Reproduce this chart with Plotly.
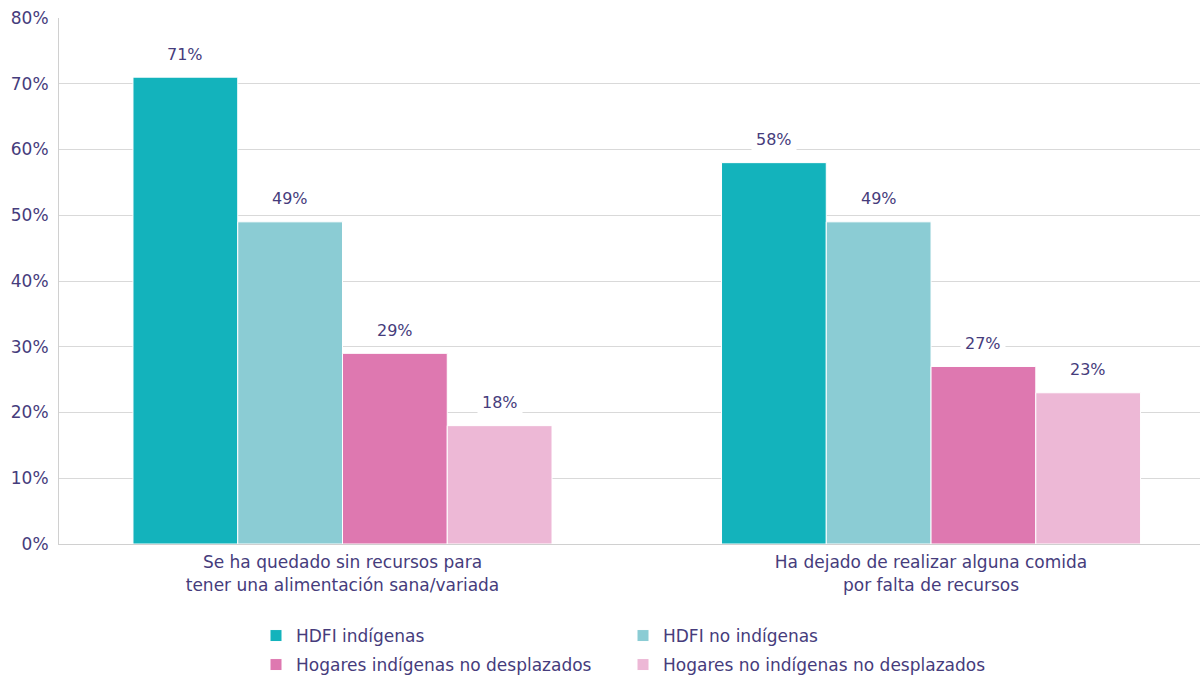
import plotly.graph_objects as go

categories = [
    "Se ha quedado sin recursos para<br>tener una alimentación sana/variada",
    "Ha dejado de realizar alguna comida<br>por falta de recursos",
]
series_names = [
    "HDFI indígenas",
    "HDFI no indígenas",
    "Hogares indígenas no desplazados",
    "Hogares no indígenas no desplazados",
]
series_values = [
    [71, 58],
    [49, 49],
    [29, 27],
    [18, 23],
]
series_colors = ["#13b3bc", "#8bccd4", "#de78b0", "#edb8d6"]
y_ticks = [0, 10, 20, 30, 40, 50, 60, 70, 80]

TEXT = "#463c7c"
FONT = "DejaVu Sans"

fig = go.Figure()
n = len(series_names)
group_width = 0.712
bar_w = group_width / n
for i, (name, vals, col) in enumerate(zip(series_names, series_values, series_colors)):
    fig.add_trace(go.Bar(
        x=list(range(len(categories))), y=vals, name=name,
        marker=dict(color=col, line=dict(color="white", width=1)),
        legend="legend" if i < 2 else "legend2",
        hoverinfo="skip",
    ))
    for j, v in enumerate(vals):
        fig.add_annotation(
            x=j + (i - (n - 1) / 2) * bar_w, y=v, xref="x", yref="y",
            text=f"{v}%", showarrow=False, yanchor="middle", yshift=23,
            bgcolor="white", borderpad=4,
            font=dict(family=FONT, size=16, color=TEXT),
        )

legend_common = dict(
    orientation="h", xref="container", yref="container",
    xanchor="left", yanchor="middle",
    entrywidth=322, entrywidthmode="pixels", itemwidth=30,
    font=dict(family=FONT, size=17, color=TEXT), traceorder="normal",
)

fig.update_layout(
    width=1200, height=675,
    margin=dict(l=59, r=0, t=18, b=131),
    paper_bgcolor="white", plot_bgcolor="white",
    barmode="group", bargap=1 - group_width, bargroupgap=0,
    font=dict(family=FONT, size=17, color=TEXT),
    xaxis=dict(
        tickmode="array", tickvals=list(range(len(categories))), ticktext=categories,
        range=[-0.4817, 1.457], showgrid=False, zeroline=False,
        showline=True, linecolor="#d0d0d0", linewidth=1,
        tickfont=dict(family=FONT, size=17, color=TEXT), ticks="",
        ticklabelstandoff=3,
    ),
    yaxis=dict(
        range=[0, 80], tickvals=y_ticks, ticktext=[f"{t}%" for t in y_ticks],
        showgrid=True, gridcolor="#d9d9d9", gridwidth=1, zeroline=False,
        showline=True, linecolor="#d0d0d0", linewidth=1,
        tickfont=dict(family=FONT, size=17, color=TEXT), ticks="",
        ticklabelstandoff=6,
    ),
    legend=dict(legend_common, x=256 / 1200, y=1 - 636 / 675),
    legend2=dict(legend_common, x=256 / 1200, y=1 - 665 / 675),
    showlegend=True,
)

fig.write_html("out.html")
